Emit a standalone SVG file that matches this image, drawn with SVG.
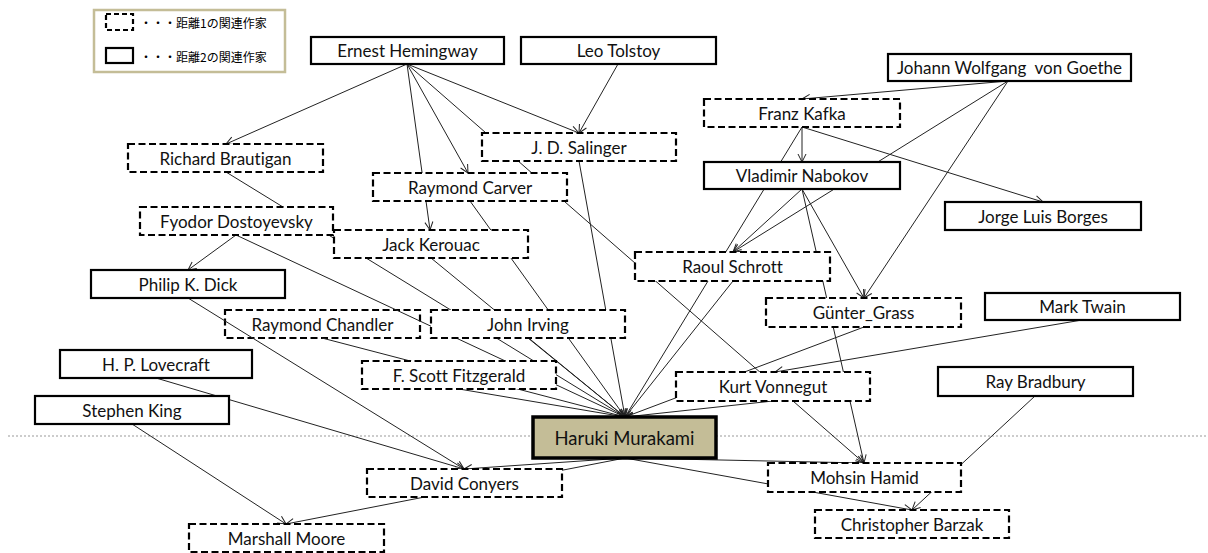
<svg xmlns="http://www.w3.org/2000/svg" width="1208" height="553" viewBox="0 0 1208 553">
<style>
.box{fill:#fff;stroke:#000;stroke-width:2.2}
.d{stroke-dasharray:7 3.5}
.t{font-family:Lato,"Liberation Sans",sans-serif;font-size:17px;fill:#111;text-anchor:middle;dominant-baseline:central;font-variant-ligatures:none}
.e{fill:none;stroke:#222;stroke-width:1}
.a{marker-end:url(#arr)}
.lg{font-family:"Noto Sans CJK JP","Noto Sans",sans-serif;font-size:12px;fill:#000;dominant-baseline:central}
</style>
<defs>
<marker id="arr" markerUnits="userSpaceOnUse" markerWidth="12" markerHeight="12" viewBox="-10 -6 12 12" refX="0" refY="0" orient="auto">
<path d="M-8,-4 L0,0 L-8,4" fill="none" stroke="#222" stroke-width="1"/>
</marker>
</defs>
<rect width="1208" height="553" fill="#fff"/>
<line x1="8" y1="436" x2="1208" y2="436" stroke="#999" stroke-width="1" stroke-dasharray="2 2"/>
<g id="legend">
<rect x="94" y="10" width="191" height="62" fill="#fff" stroke="#c4bd97" stroke-width="2.5"/>
<rect x="106" y="14" width="27" height="16" class="box d" style="stroke-dasharray:5 3"/>
<text x="140" y="22" class="lg">・・・距離1の関連作家</text>
<rect x="106" y="48" width="27" height="15" class="box"/>
<text x="140" y="56" class="lg">・・・距離2の関連作家</text>
</g>
<g id="n-chandler"><rect x="225" y="310" width="195" height="28" class="box d"/><text x="322.5" y="324" class="t">Raymond Chandler</text></g>
<g id="connectors">
<line class="e a" x1="407" y1="64" x2="226" y2="144"/>
<line class="e a" x1="407" y1="64" x2="430" y2="230"/>
<line class="e a" x1="407" y1="64" x2="468" y2="173"/>
<line class="e a" x1="407" y1="64" x2="579" y2="133"/>
<line class="e a" x1="407" y1="64" x2="864" y2="463"/>
<line class="e a" x1="618" y1="64" x2="579" y2="133"/>
<line class="e a" x1="1008" y1="81" x2="802" y2="99"/>
<line class="e a" x1="1008" y1="81" x2="733" y2="252"/>
<line class="e a" x1="1008" y1="81" x2="864" y2="298"/>
<line class="e a" x1="802" y1="127" x2="802" y2="162"/>
<line class="e a" x1="802" y1="127" x2="1043" y2="202"/>
<line class="e a" x1="802" y1="127" x2="625" y2="417"/>
<line class="e a" x1="802" y1="189" x2="733" y2="252"/>
<line class="e a" x1="802" y1="189" x2="864" y2="298"/>
<line class="e a" x1="802" y1="189" x2="864" y2="463"/>
<line class="e a" x1="226" y1="172" x2="625" y2="417"/>
<line class="e a" x1="236" y1="235" x2="188" y2="270"/>
<line class="e a" x1="236" y1="235" x2="625" y2="417"/>
<line class="e a" x1="470" y1="201" x2="625" y2="417"/>
<line class="e a" x1="579" y1="161" x2="625" y2="417"/>
<line class="e a" x1="431" y1="258" x2="625" y2="417"/>
<line class="e a" x1="322" y1="338" x2="625" y2="417"/>
<line class="e a" x1="528" y1="338" x2="625" y2="417"/>
<line class="e a" x1="459" y1="389" x2="625" y2="417"/>
<line class="e a" x1="733" y1="281" x2="625" y2="417"/>
<line class="e a" x1="864" y1="327" x2="625" y2="417"/>
<line class="e a" x1="773" y1="401" x2="625" y2="417"/>
<line class="e a" x1="1082" y1="320" x2="775" y2="372"/>
<line class="e a" x1="188" y1="298" x2="464" y2="469"/>
<line class="e a" x1="156" y1="378" x2="464" y2="469"/>
<line class="e a" x1="132" y1="424" x2="286" y2="524"/>
<line class="e a" x1="625" y1="458" x2="464" y2="469"/>
<line class="e a" x1="625" y1="458" x2="286" y2="524"/>
<line class="e a" x1="625" y1="458" x2="864" y2="463"/>
<line class="e a" x1="625" y1="458" x2="912" y2="510"/>
<line class="e a" x1="1035" y1="396" x2="912" y2="510"/>
</g>
<g id="n-hemingway"><rect x="311" y="37" width="193" height="27" class="box"/><text x="407.5" y="50.5" class="t">Ernest Hemingway</text></g>
<g id="n-tolstoy"><rect x="521" y="37" width="195" height="27" class="box"/><text x="618.5" y="50.5" class="t">Leo Tolstoy</text></g>
<g id="n-goethe"><rect x="888" y="54" width="243" height="27" class="box"/><text x="1009.5" y="67.5" class="t" xml:space="preserve">Johann Wolfgang  von Goethe</text></g>
<g id="n-kafka"><rect x="704" y="99" width="196" height="28" class="box d"/><text x="802" y="113" class="t">Franz Kafka</text></g>
<g id="n-nabokov"><rect x="704" y="162" width="196" height="27" class="box"/><text x="802" y="175.5" class="t">Vladimir Nabokov</text></g>
<g id="n-borges"><rect x="945" y="202" width="196" height="28" class="box"/><text x="1043" y="216" class="t">Jorge Luis Borges</text></g>
<g id="n-brautigan"><rect x="128" y="144" width="195" height="28" class="box d"/><text x="225.5" y="158" class="t">Richard Brautigan</text></g>
<g id="n-salinger"><rect x="482" y="133" width="194" height="28" class="box d"/><text x="579" y="147" class="t">J. D. Salinger</text></g>
<g id="n-carver"><rect x="373" y="173" width="194" height="28" class="box d"/><text x="470" y="187" class="t">Raymond Carver</text></g>
<g id="n-dostoyevsky"><rect x="140" y="207" width="193" height="28" class="box d"/><text x="236.5" y="221" class="t">Fyodor Dostoyevsky</text></g>
<g id="n-kerouac"><rect x="334" y="230" width="194" height="28" class="box d"/><text x="431" y="244" class="t">Jack Kerouac</text></g>
<g id="n-schrott"><rect x="635" y="252" width="195" height="29" class="box d"/><text x="732.5" y="266.5" class="t">Raoul Schrott</text></g>
<g id="n-dick"><rect x="91" y="270" width="194" height="28" class="box"/><text x="188" y="284" class="t">Philip K. Dick</text></g>
<g id="n-grass"><rect x="766" y="298" width="195" height="29" class="box d"/><text x="863.5" y="312.5" class="t">Günter_Grass</text></g>
<g id="n-twain"><rect x="985" y="293" width="195" height="27" class="box"/><text x="1082.5" y="306.5" class="t">Mark Twain</text></g>
<g id="n-irving"><rect x="431" y="310" width="194" height="28" class="box d"/><text x="528" y="324" class="t">John Irving</text></g>
<g id="n-lovecraft"><rect x="60" y="350" width="192" height="28" class="box"/><text x="156" y="364" class="t">H. P. Lovecraft</text></g>
<g id="n-fitzgerald"><rect x="362" y="361" width="194" height="28" class="box d"/><text x="459" y="375" class="t">F. Scott Fitzgerald</text></g>
<g id="n-vonnegut"><rect x="676" y="372" width="194" height="29" class="box d"/><text x="773" y="386.5" class="t">Kurt Vonnegut</text></g>
<g id="n-bradbury"><rect x="938" y="367" width="195" height="29" class="box"/><text x="1035.5" y="381.5" class="t">Ray Bradbury</text></g>
<g id="n-king"><rect x="35" y="396" width="194" height="28" class="box"/><text x="132" y="410" class="t">Stephen King</text></g>
<g id="n-murakami"><rect x="533" y="417" width="183" height="41" fill="#c4bd97" stroke="#000" stroke-width="3.5"/><text x="624.5" y="437.5" class="t" style="font-size:18.5px">Haruki Murakami</text></g>
<g id="n-conyers"><rect x="367" y="469" width="195" height="28" class="box d"/><text x="464.5" y="483" class="t">David Conyers</text></g>
<g id="n-hamid"><rect x="768" y="463" width="193" height="29" class="box d"/><text x="864.5" y="477.5" class="t">Mohsin Hamid</text></g>
<g id="n-barzak"><rect x="815" y="510" width="194" height="28" class="box d"/><text x="912" y="524" class="t">Christopher Barzak</text></g>
<g id="n-moore"><rect x="189" y="524" width="195" height="28" class="box d"/><text x="286.5" y="538" class="t">Marshall Moore</text></g>
</svg>
